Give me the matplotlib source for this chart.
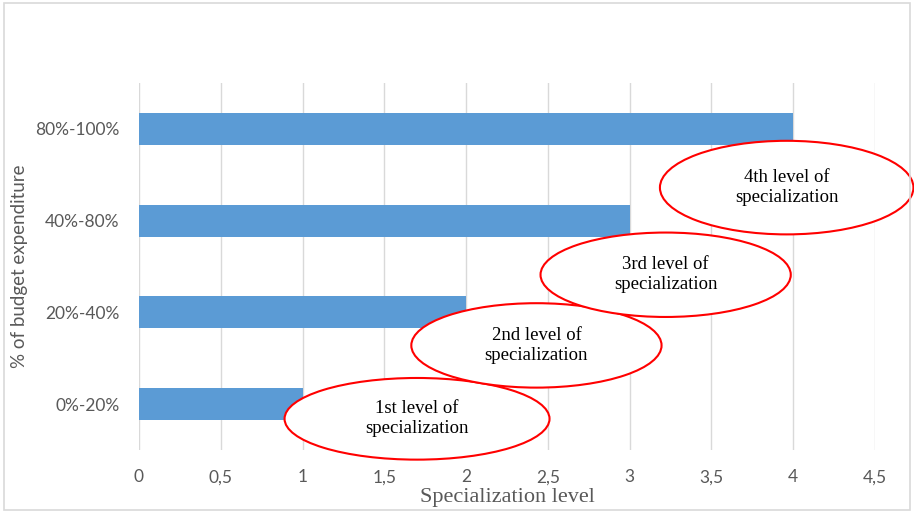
import matplotlib
matplotlib.use("Agg")
import matplotlib.pyplot as plt
from matplotlib.patches import Ellipse, Rectangle

categories = ["0%-20%", "20%-40%", "40%-80%", "80%-100%"]
levels = [1, 2, 3, 4]
x_ticks = [0, 0.5, 1, 1.5, 2, 2.5, 3, 3.5, 4, 4.5]
x_tick_labels = ["0", "0,5", "1", "1,5", "2", "2,5", "3", "3,5", "4", "4,5"]
level_notes = ["1st level of\nspecialization", "2nd level of\nspecialization",
               "3rd level of\nspecialization", "4th level of\nspecialization"]
# callout ellipses: (centre x, centre y, width, height) in data units
note_x = [1.70, 2.43, 3.22, 3.96]
note_y = [-0.16, 0.64, 1.41, 2.36]
note_w = [1.62, 1.53, 1.53, 1.55]
note_h = [0.89, 0.92, 0.92, 1.02]

fig = plt.figure(figsize=(9.14, 5.12), dpi=100)
fig.patches.append(Rectangle((0.004, 0.004), 0.992, 0.990, transform=fig.transFigure,
                             fill=False, edgecolor="#D9D9D9", linewidth=1.2))

ax = fig.add_axes([139 / 914, 1 - 450 / 512, (875 - 139) / 914, (450 - 83) / 512])
ypos = list(range(len(categories)))
ax.barh(ypos, levels, height=0.35, color="#5B9BD5", zorder=2)

ax.set_xlim(0, 4.5)
ax.set_ylim(-0.5, 3.5)
ax.set_xticks(x_ticks)
ax.set_xticklabels(x_tick_labels)
ax.set_yticks(ypos)
ax.set_yticklabels(categories)
ax.tick_params(axis="both", length=0, colors="#595959", labelsize=12.5)
ax.tick_params(axis="x", pad=14)
ax.tick_params(axis="y", pad=14)
for lab in ax.get_xticklabels() + ax.get_yticklabels():
    lab.set_family("Lato")
ax.grid(axis="x", color="#D9D9D9", linewidth=1.0, zorder=0)
ax.set_axisbelow(True)
for s in ax.spines.values():
    s.set_visible(False)

ax.set_xlabel("Specialization level", family="Liberation Serif", fontsize=16,
              color="#595959", labelpad=2)
ax.set_ylabel("% of budget expenditure", family="Lato", fontsize=13.5,
              color="#595959", labelpad=5)

for cx, cy, w, h, txt in zip(note_x, note_y, note_w, note_h, level_notes):
    e = Ellipse((cx, cy), w, h, facecolor="white", edgecolor="#FF0000",
                linewidth=1.5, zorder=5, clip_on=False)
    ax.add_patch(e)
    ax.text(cx, cy, txt, ha="center", va="center", family="Liberation Serif",
            fontsize=13.5, color="black", zorder=6, linespacing=1.25)

fig.savefig("out.png", dpi=100)
